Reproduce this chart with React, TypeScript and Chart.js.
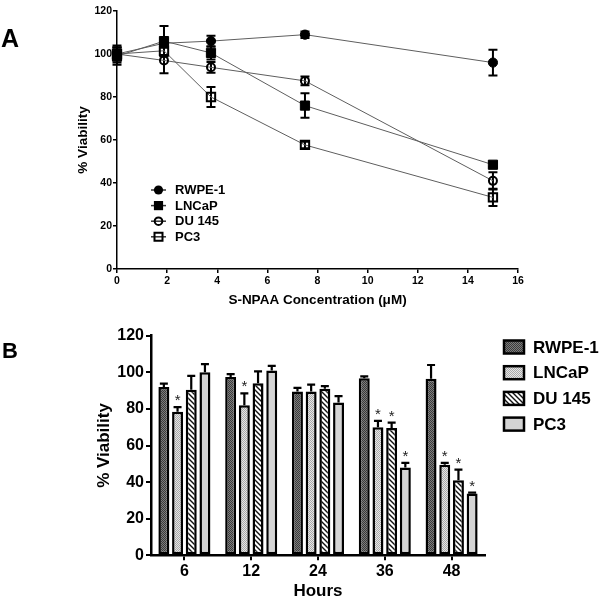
import React, { useEffect, useRef } from 'react';
import { Chart, registerables } from 'chart.js';

Chart.register(...registerables);

const FONT = "'Liberation Sans', Arial, Helvetica, sans-serif";

// ---------- Panel A data ----------
const concentrationsA = [0, 1.875, 3.75, 7.5, 15];
const xTicksA = [0, 2, 4, 6, 8, 10, 12, 14, 16];
const yTicksA = [0, 20, 40, 60, 80, 100, 120];
const seriesLabels = ['RWPE-1', 'LNCaP', 'DU 145', 'PC3'];
const rwpeA = [100, 105, 106, 109, 96];
const rwpeAErr = [3, 2, 2.5, 1.5, 6];
const lncapA = [99, 106, 100.5, 76, 48.5];
const lncapAErr = [4, 7, 3, 5.7, 1.2];
const du145A = [100, 97, 93.8, 87.5, 41];
const du145AErr = [4, 6, 2.5, 2, 4];
const pc3A = [100, 101.5, 80, 57.7, 33.3];
const pc3AErr = [3, 2.5, 4.7, 1.5, 4];

// ---------- Panel B data ----------
const hoursB = ['6', '12', '24', '36', '48'];
const yTicksB = [0, 20, 40, 60, 80, 100, 120];
const rwpeB = [92, 97.5, 89.5, 96.8, 96.5];
const rwpeBErr = [1.8, 1.5, 2, 1, 7.5];
const lncapB = [78.5, 82, 89.5, 70, 49.5];
const lncapBErr = [2.5, 6.5, 3.8, 3.5, 1];
const du145B = [90.5, 94, 91, 69.5, 41];
const du145BErr = [7.5, 6.5, 1.5, 3, 5.8];
const pc3B = [100, 101, 83.5, 48, 33.8];
const pc3BErr = [4.5, 2.5, 3.5, 2.5, 0.5];
const rwpeBSig = [false, false, false, false, false];
const lncapBSig = [true, true, false, true, true];
const du145BSig = [false, false, false, true, true];
const pc3BSig = [false, false, false, true, true];

type MarkerKind = 'filledCircle' | 'filledSquare' | 'openCircle' | 'openSquare';

function drawMarker(ctx: CanvasRenderingContext2D, kind: MarkerKind, x: number, y: number) {
  ctx.save();
  ctx.strokeStyle = '#000';
  ctx.fillStyle = '#000';
  ctx.lineWidth = 2;
  ctx.beginPath();
  if (kind === 'filledCircle') {
    ctx.arc(x, y, 4.6, 0, Math.PI * 2);
    ctx.fill();
  } else if (kind === 'filledSquare') {
    ctx.rect(x - 4.6, y - 4.6, 9.2, 9.2);
    ctx.fill();
  } else if (kind === 'openCircle') {
    ctx.arc(x, y, 3.8, 0, Math.PI * 2);
    ctx.stroke();
  } else {
    ctx.rect(x - 4, y - 4, 8, 8);
    ctx.stroke();
  }
  ctx.restore();
}

function makePattern(
  target: CanvasRenderingContext2D,
  size: number,
  draw: (g: CanvasRenderingContext2D, s: number) => void
) {
  const c = document.createElement('canvas');
  c.width = size;
  c.height = size;
  const g = c.getContext('2d') as CanvasRenderingContext2D;
  draw(g, size);
  return target.createPattern(c, 'repeat') as CanvasPattern;
}

export default function App() {
  const refA = useRef<HTMLCanvasElement>(null);
  const refB = useRef<HTMLCanvasElement>(null);

  useEffect(() => {
    Chart.defaults.font.family = FONT;
    Chart.defaults.color = '#000';

    // ---------------- Panel A ----------------
    const kindsA: MarkerKind[] = ['filledCircle', 'filledSquare', 'openCircle', 'openSquare'];
    const valuesA = [rwpeA, lncapA, du145A, pc3A];
    const errsA = [rwpeAErr, lncapAErr, du145AErr, pc3AErr];
    const drawOrderA = [1, 0, 2, 3];

    const datasetsA = seriesLabels.map((label, di) => {
      const kind = kindsA[di];
      const filled = kind === 'filledCircle' || kind === 'filledSquare';
      const isCircle = kind === 'filledCircle' || kind === 'openCircle';
      return {
        label,
        order: drawOrderA[di],
        data: concentrationsA.map((x, i) => ({ x, y: valuesA[di][i] })),
        errors: errsA[di],
        showLine: true,
        borderColor: '#5e5e5e',
        borderWidth: 1,
        pointStyle: isCircle ? 'circle' : 'rect',
        pointRadius: isCircle ? (filled ? 4.6 : 4) : filled ? 6.5 : 5.9,
        pointBackgroundColor: filled ? '#000' : 'rgba(255,255,255,0)',
        pointBorderColor: '#000',
        pointBorderWidth: filled ? 1 : 2,
        clip: false as any,
        markerKind: kind,
      };
    });

    const errorBarsA = {
      id: 'errorBarsA',
      beforeDatasetsDraw(chart: any) {
        const { ctx, scales } = chart;
        const xs = scales.x;
        const ys = scales.y;
        ctx.save();
        ctx.strokeStyle = '#000';
        ctx.lineWidth = 2;
        chart.data.datasets.forEach((ds: any) => {
          ds.data.forEach((pt: any, i: number) => {
            const e = ds.errors[i];
            const px = xs.getPixelForValue(pt.x);
            const top = ys.getPixelForValue(pt.y + e);
            const bot = ys.getPixelForValue(pt.y - e);
            ctx.beginPath();
            ctx.moveTo(px, top);
            ctx.lineTo(px, bot);
            ctx.moveTo(px - 4.5, top);
            ctx.lineTo(px + 4.5, top);
            ctx.moveTo(px - 4.5, bot);
            ctx.lineTo(px + 4.5, bot);
            ctx.stroke();
          });
        });
        ctx.restore();
      },
    };

    const legendA = {
      id: 'legendA',
      afterDraw(chart: any) {
        const { ctx } = chart;
        ctx.save();
        chart.data.datasets.forEach((ds: any, i: number) => {
          const y = 190 + i * 15.6;
          ctx.strokeStyle = '#333';
          ctx.lineWidth = 1.5;
          ctx.beginPath();
          ctx.moveTo(151, y);
          ctx.lineTo(166, y);
          ctx.stroke();
          drawMarker(ctx, ds.markerKind, 158.5, y);
          ctx.fillStyle = '#000';
          ctx.font = `bold 13px ${FONT}`;
          ctx.textBaseline = 'middle';
          ctx.textAlign = 'left';
          ctx.fillText(ds.label, 175, y + 0.5);
        });
        ctx.font = `bold 25px ${FONT}`;
        ctx.textBaseline = 'alphabetic';
        ctx.fillText('A', 1, 47);
        ctx.restore();
      },
    };

    const chartA = new Chart(refA.current as HTMLCanvasElement, {
      type: 'scatter',
      data: { datasets: datasetsA as any },
      options: {
        animation: false,
        responsive: false,
        events: [],
        layout: { padding: { left: 72, right: 82, top: 11, bottom: 0 } },
        plugins: { legend: { display: false }, tooltip: { enabled: false } },
        scales: {
          x: {
            type: 'linear',
            min: 0,
            max: 16,
            afterBuildTicks: (s: any) => {
              s.ticks = xTicksA.map((v) => ({ value: v }));
            },
            afterFit: (s: any) => {
              s.height = 41;
            },
            ticks: { font: { size: 10.5, weight: 'bold' }, color: '#000', padding: 2, maxRotation: 0 },
            grid: { display: true, drawOnChartArea: false, drawTicks: true, tickLength: 4, color: '#000', lineWidth: 1.5 },
            border: { display: true, color: '#000', width: 1.5 },
            title: {
              display: true,
              text: 'S-NPAA Concentration (μM)',
              font: { size: 13.5, weight: 'bold', lineHeight: 1.2 },
              color: '#000',
              padding: { top: 0, bottom: 2 },
            },
          },
          y: {
            type: 'linear',
            min: 0,
            max: 120,
            afterBuildTicks: (s: any) => {
              s.ticks = yTicksA.map((v) => ({ value: v }));
            },
            afterFit: (s: any) => {
              s.width = 45;
            },
            ticks: { font: { size: 10.5, weight: 'bold' }, color: '#000', padding: 1 },
            grid: { display: true, drawOnChartArea: false, drawTicks: true, tickLength: 4, color: '#000', lineWidth: 1.5 },
            border: { display: true, color: '#000', width: 1.5 },
            title: {
              display: true,
              text: '% Viability',
              font: { size: 13.5, weight: 'bold', lineHeight: 1.2 },
              color: '#000',
              padding: { top: 3, bottom: 0 },
            },
          },
        },
      } as any,
      plugins: [errorBarsA, legendA],
    });

    // ---------------- Panel B ----------------
    const ctxB = (refB.current as HTMLCanvasElement).getContext('2d') as CanvasRenderingContext2D;
    const patRwpe = makePattern(ctxB, 2, (g) => {
      g.fillStyle = '#7c7c7c';
      g.fillRect(0, 0, 2, 2);
      g.fillStyle = '#3a3a3a';
      g.fillRect(0, 0, 1, 1);
      g.fillRect(1, 1, 1, 1);
    });
    const patLncap = makePattern(ctxB, 2, (g) => {
      g.fillStyle = '#e6e6e6';
      g.fillRect(0, 0, 2, 2);
      g.fillStyle = '#a9a9a9';
      g.fillRect(0, 0, 1, 1);
      g.fillRect(1, 1, 1, 1);
    });
    const patDu = makePattern(ctxB, 5, (g, s) => {
      g.fillStyle = '#fff';
      g.fillRect(0, 0, s, s);
      g.strokeStyle = '#111';
      g.lineWidth = 1.4;
      g.beginPath();
      g.moveTo(-1, -1);
      g.lineTo(s + 1, s + 1);
      g.moveTo(-1, s - 1);
      g.lineTo(1, s + 1);
      g.moveTo(s - 1, -1);
      g.lineTo(s + 1, 1);
      g.stroke();
    });
    const fillsB = [patRwpe, patLncap, patDu, '#d4d4d4'];
    const valuesB = [rwpeB, lncapB, du145B, pc3B];
    const errsB = [rwpeBErr, lncapBErr, du145BErr, pc3BErr];
    const sigsB = [rwpeBSig, lncapBSig, du145BSig, pc3BSig];

    const datasetsB = seriesLabels.map((label, di) => ({
      label,
      data: valuesB[di],
      errors: errsB[di],
      sig: sigsB[di],
      backgroundColor: fillsB[di],
      borderColor: '#000',
      borderWidth: 2.5,
      borderSkipped: false,
      categoryPercentage: 0.82,
      barPercentage: 0.8,
    }));

    const errorBarsB = {
      id: 'errorBarsB',
      afterDatasetsDraw(chart: any) {
        const { ctx, scales } = chart;
        const ys = scales.y;
        ctx.save();
        chart.data.datasets.forEach((ds: any, di: number) => {
          const meta = chart.getDatasetMeta(di);
          ds.data.forEach((v: number, i: number) => {
            const bar = meta.data[i];
            const px = bar.x;
            const base = ys.getPixelForValue(v);
            const top = ys.getPixelForValue(v + ds.errors[i]);
            ctx.strokeStyle = '#000';
            ctx.lineWidth = 2.2;
            ctx.beginPath();
            ctx.moveTo(px, base);
            ctx.lineTo(px, top);
            ctx.moveTo(px - 4, top);
            ctx.lineTo(px + 4, top);
            ctx.stroke();
            if (ds.sig[i]) {
              ctx.fillStyle = '#222';
              ctx.font = `15px ${FONT}`;
              ctx.textAlign = 'center';
              ctx.textBaseline = 'alphabetic';
              ctx.fillText('*', px, top - 2);
            }
          });
        });
        ctx.restore();
      },
    };

    const legendB = {
      id: 'legendB',
      afterDraw(chart: any) {
        const { ctx } = chart;
        ctx.save();
        chart.data.datasets.forEach((ds: any, i: number) => {
          const y = 27 + i * 25.7;
          ctx.fillStyle = ds.backgroundColor;
          ctx.fillRect(504, y - 6.5, 20, 13);
          ctx.strokeStyle = '#000';
          ctx.lineWidth = 2.5;
          ctx.strokeRect(504, y - 6.5, 20, 13);
          ctx.fillStyle = '#000';
          ctx.font = `bold 17px ${FONT}`;
          ctx.textAlign = 'left';
          ctx.textBaseline = 'middle';
          ctx.fillText(ds.label, 533, y + 1);
        });
        ctx.font = `bold 22px ${FONT}`;
        ctx.textBaseline = 'alphabetic';
        ctx.fillText('B', 2, 38);
        ctx.restore();
      },
    };

    const chartB = new Chart(refB.current as HTMLCanvasElement, {
      type: 'bar',
      data: { labels: hoursB, datasets: datasetsB as any },
      options: {
        animation: false,
        responsive: false,
        events: [],
        layout: { padding: { left: 90, right: 115, top: 15.7, bottom: 0 } },
        plugins: { legend: { display: false }, tooltip: { enabled: false } },
        scales: {
          x: {
            type: 'category',
            afterFit: (s: any) => {
              s.height = 44.7;
            },
            ticks: { font: { size: 16, weight: 'bold' }, color: '#000', padding: 2, maxRotation: 0 },
            grid: { display: true, offset: false, drawOnChartArea: false, drawTicks: true, tickLength: 5, color: '#000', lineWidth: 2 },
            border: { display: true, color: '#000', width: 2.5 },
            title: {
              display: true,
              text: 'Hours',
              font: { size: 17, weight: 'bold', lineHeight: 1 },
              color: '#000',
              padding: { top: 0, bottom: 0 },
            },
          },
          y: {
            type: 'linear',
            min: 0,
            max: 120,
            afterBuildTicks: (s: any) => {
              s.ticks = yTicksB.map((v) => ({ value: v }));
            },
            afterFit: (s: any) => {
              s.width = 61;
            },
            ticks: { font: { size: 16, weight: 'bold' }, color: '#000', padding: 2 },
            grid: { display: true, drawOnChartArea: false, drawTicks: true, tickLength: 5, color: '#000', lineWidth: 2 },
            border: { display: true, color: '#000', width: 2.5 },
            title: {
              display: true,
              text: '% Viability',
              font: { size: 17, weight: 'bold', lineHeight: 1.2 },
              color: '#000',
              padding: { top: 4, bottom: 0 },
            },
          },
        },
      } as any,
      plugins: [errorBarsB, legendB],
    });

    return () => {
      chartA.destroy();
      chartB.destroy();
    };
  }, []);

  return (
    <div
      style={{
        position: 'absolute',
        left: 0,
        top: 0,
        width: 600,
        height: 600,
        background: '#fff',
        overflow: 'hidden',
      }}
    >
      <canvas ref={refA} width={600} height={310} style={{ position: 'absolute', left: 0, top: 0 }} />
      <canvas ref={refB} width={600} height={280} style={{ position: 'absolute', left: 0, top: 320 }} />
    </div>
  );
}
